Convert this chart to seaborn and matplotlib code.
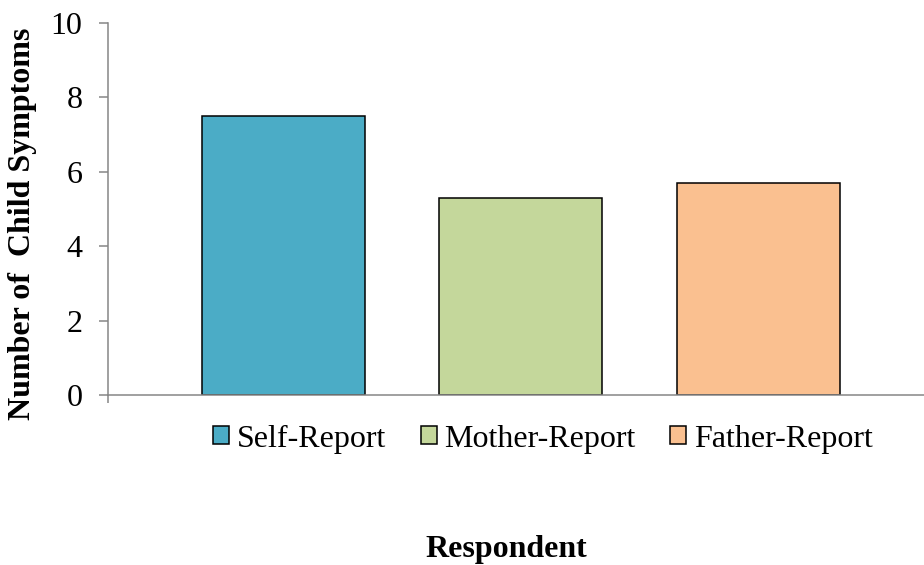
import matplotlib
matplotlib.use("Agg")
import matplotlib.pyplot as plt
import seaborn as sns
import pandas as pd

# Mean number of child symptoms by respondent
respondents = ["Self-Report", "Mother-Report", "Father-Report"]
symptoms = [7.5, 5.3, 5.7]
bar_colors = ["#4BACC6", "#C4D79B", "#FAC090"]
y_ticks = [0, 2, 4, 6, 8, 10]

df = pd.DataFrame({"Respondent": respondents, "Symptoms": symptoms})

sns.set_theme(style="white")
plt.rcParams["font.family"] = ["Liberation Serif", "DejaVu Serif"]
plt.rcParams["text.color"] = "black"
plt.rcParams["axes.labelcolor"] = "black"
plt.rcParams["ytick.color"] = "black"
plt.rcParams["xtick.color"] = "black"

FS = 23

fig = plt.figure(figsize=(9.24, 5.65), dpi=100)
ax = fig.add_axes([108 / 924, 170 / 565, 1 - 108 / 924, 372 / 565])

sns.barplot(
    data=df, x="Respondent", y="Symptoms", hue="Respondent",
    palette=bar_colors, width=0.686, edgecolor="black", linewidth=1.1,
    saturation=1, ax=ax, legend=True,
)

xmin = -0.739
ax.set_xlim(xmin, 2.699)
ax.set_ylim(0, 10)
ax.set_yticks(y_ticks)
ax.set_yticklabels([str(t) for t in y_ticks], fontsize=FS)
ax.set_xticks([xmin])
ax.set_xticklabels([""])

axis_grey = "#868686"
for side in ["top", "right"]:
    ax.spines[side].set_visible(False)
for side in ["left", "bottom"]:
    ax.spines[side].set_color(axis_grey)
    ax.spines[side].set_linewidth(1.1)
ax.tick_params(axis="y", direction="out", length=6.5, width=1.1,
               color=axis_grey, pad=12, left=True, labelcolor="black")
ax.tick_params(axis="x", direction="out", length=6, width=1.1,
               color=axis_grey, bottom=True)

ax.set_xlabel("")
ax.set_ylabel("")
fig.text(23 / 924, 1 - 224 / 565, "Number of  Child Symptoms", rotation=90,
         ha="center", va="center", fontsize=FS, fontweight="bold")
fig.text(506 / 924, 1 - 549 / 565, "Respondent", ha="center", va="center",
         fontsize=FS, fontweight="bold")

handles, labels = ax.get_legend_handles_labels()
ax.legend(
    handles, labels, loc="center", bbox_to_anchor=(543 / 924, 1 - 439 / 565),
    bbox_transform=fig.transFigure, ncol=3, frameon=False, fontsize=FS,
    handlelength=0.5, handleheight=0.5, handletextpad=0.25,
    columnspacing=1.08, borderpad=0,
)

fig.savefig("out.png", dpi=100)
